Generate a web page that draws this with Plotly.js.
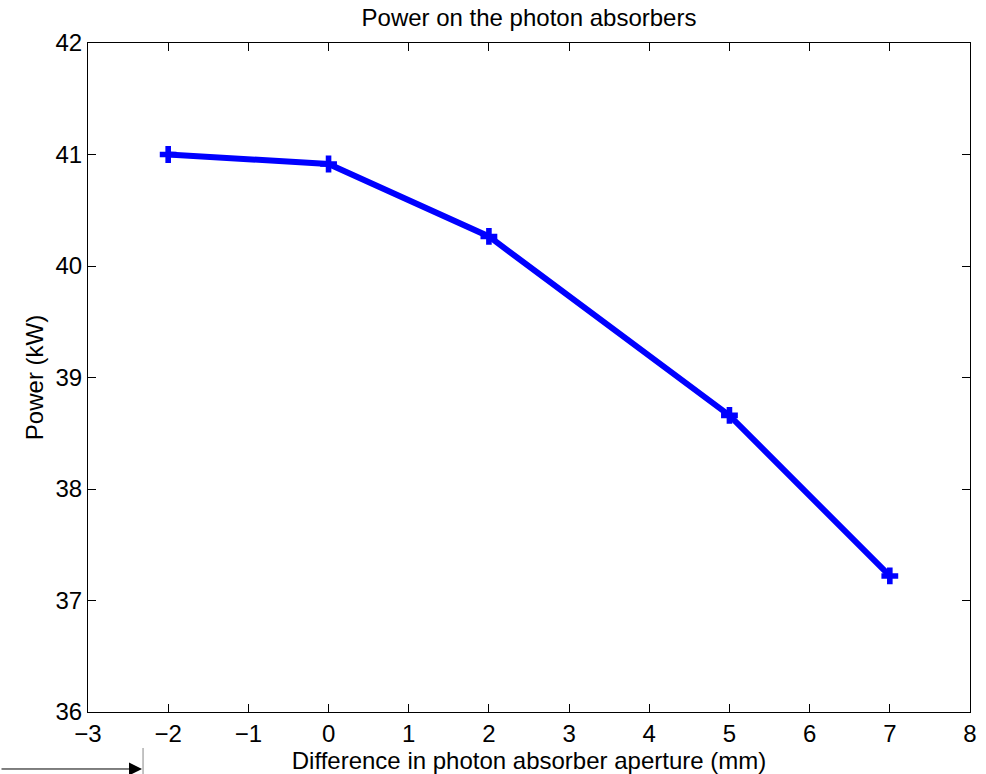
<!DOCTYPE html>
<html>
<head>
<meta charset="utf-8">
<script src="https://cdn.plot.ly/plotly-3.0.1.min.js"></script>
<style>html,body{margin:0;padding:0;background:#fff;}#chart{width:986px;height:774px;}</style>
</head>
<body>
<div id="chart"></div>
<script>
const apertureDiff = [-2, 0, 2, 5, 7];
const powerKW = [41.0, 40.915, 40.265, 38.66, 37.22];
const xTicks = [-3, -2, -1, 0, 1, 2, 3, 4, 5, 6, 7, 8];
const xTickText = ['\u22123', '\u22122', '\u22121', '0', '1', '2', '3', '4', '5', '6', '7', '8'];
const yTicks = [36, 37, 38, 39, 40, 41, 42];

const font = {family: 'Liberation Sans, Arial, Helvetica, sans-serif', size: 24, color: '#000'};

const trace = {
  x: apertureDiff, y: powerKW, mode: 'lines+markers', type: 'scatter',
  line: {color: '#0000ff', width: 6},
  marker: {symbol: 'cross', size: 14, color: '#0000ff', line: {width: 0}},
  hoverinfo: 'skip'
};

const layout = {
  width: 986, height: 774,
  margin: {l: 88, r: 16, t: 43, b: 62},
  paper_bgcolor: '#fff', plot_bgcolor: '#fff',
  font: font,
  showlegend: false,
  title: {text: 'Power on the photon absorbers', font: font, x: 0.5365, xanchor: 'center', yref: 'container', y: 0.977, yanchor: 'middle'},
  xaxis: {
    range: [-3, 8], tickvals: xTicks, ticktext: xTickText,
    ticks: 'inside', ticklen: 8, tickwidth: 1, tickcolor: '#000',
    showline: true, linecolor: '#000', linewidth: 1, mirror: 'ticks',
    showgrid: false, zeroline: false, tickfont: font,
    title: {text: 'Difference in photon absorber aperture (mm)', font: font, standoff: 0}
  },
  yaxis: {
    range: [36, 42], tickvals: yTicks,
    ticks: 'inside', ticklen: 8, tickwidth: 1, tickcolor: '#000',
    showline: true, linecolor: '#000', linewidth: 1, mirror: 'ticks',
    showgrid: false, zeroline: false, tickfont: font,
    title: {text: 'Power (kW)', font: font, standoff: 5}
  },
  shapes: [
    {type: 'line', xref: 'paper', yref: 'paper', x0: 0.0624, x1: 0.0624, y0: -0.0538, y1: -0.093, line: {color: '#888', width: 1}}
  ],
  annotations: [
    {xref: 'paper', yref: 'paper', x: 0.0612, y: -0.0852, axref: 'pixel', ayref: 'pixel', ax: -142, ay: 0,
     text: '', showarrow: true, arrowhead: 2, arrowsize: 2.6, arrowwidth: 1, arrowcolor: '#000'}
  ]
};

Plotly.newPlot('chart', [trace], layout, {displayModeBar: false, staticPlot: true});
</script>
</body>
</html>
